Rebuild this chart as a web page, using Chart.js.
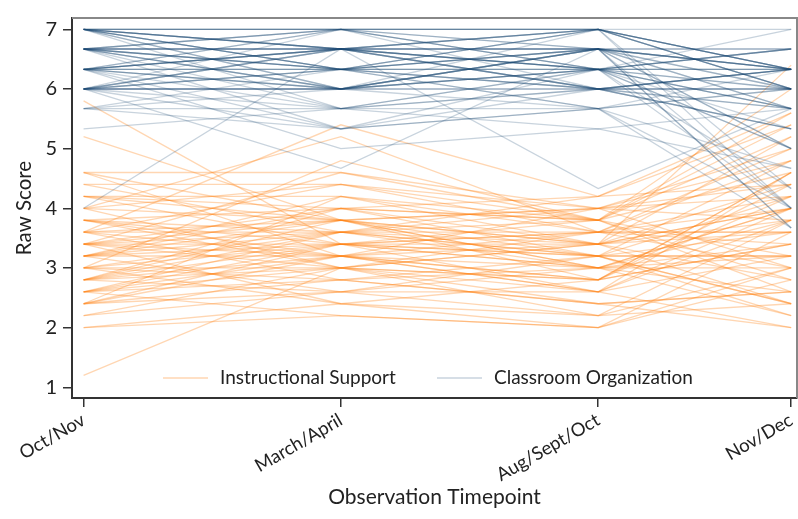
<!DOCTYPE html>
<html>
<head>
<meta charset="utf-8">
<script src="https://cdn.jsdelivr.net/npm/chart.js@4/dist/chart.umd.min.js"></script>
<style>
  html, body { margin: 0; padding: 0; background: #fff; }
  #wrap { width: 798px; height: 519px; }
</style>
</head>
<body>
<div id="wrap"><canvas id="chart" width="798" height="519"></canvas></div>
<script>
// Observation timepoints (months since first visit) and their labels
const timepoints = [0, 4, 8, 11];
const timepointLabels = ["Oct/Nov", "March/April", "Aug/Sept/Oct", "Nov/Dec"];
const yTicks = [1, 2, 3, 4, 5, 6, 7];

// One row per classroom: raw score at each timepoint
const instructionalSupport = [
  [1.2, 3.0, 2.6, 3.2], [5.8, 3.4, 3.0, 2.6], [5.2, 3.8, 3.4, 4.0], [4.6, 4.6, 3.8, 5.2],
  [4.6, 3.2, 2.8, 4.4], [4.4, 4.4, 4.0, 4.8], [4.4, 3.6, 3.2, 2.4], [4.2, 4.0, 4.2, 5.4],
  [4.2, 3.4, 3.6, 3.0], [4.2, 4.2, 3.4, 6.4], [4.0, 3.8, 4.0, 4.2], [4.0, 5.2, 3.6, 3.4],
  [4.0, 3.0, 2.8, 4.6], [3.8, 4.0, 3.8, 2.8], [3.8, 3.6, 4.2, 5.6], [3.8, 3.4, 3.0, 3.8],
  [3.6, 3.8, 3.4, 4.4], [3.6, 4.4, 3.8, 3.2], [3.6, 2.8, 3.2, 2.2], [3.6, 3.2, 2.6, 4.0],
  [3.4, 3.6, 3.6, 3.6], [3.4, 4.0, 3.2, 4.8], [3.4, 3.0, 2.4, 2.0], [3.4, 3.8, 4.0, 3.0],
  [3.4, 3.4, 3.4, 5.2], [3.2, 3.6, 3.0, 3.4], [3.2, 4.2, 3.8, 2.6], [3.2, 2.6, 2.2, 3.8],
  [3.2, 3.2, 3.6, 4.2], [3.2, 3.8, 2.8, 4.6], [3.0, 3.4, 3.2, 2.4], [3.0, 2.4, 2.0, 3.6],
  [3.0, 3.6, 3.8, 6.0], [2.8, 3.0, 3.4, 4.0], [2.8, 3.8, 3.0, 3.2], [2.8, 2.6, 2.6, 2.0],
  [2.8, 3.2, 4.0, 4.4], [2.8, 4.0, 3.4, 2.8], [2.6, 3.0, 2.8, 3.4], [2.6, 3.4, 3.6, 5.0],
  [2.6, 2.8, 2.4, 2.6], [2.6, 3.6, 3.2, 4.2], [2.6, 2.2, 2.0, 3.0], [2.4, 3.2, 3.4, 3.8],
  [2.4, 2.8, 3.0, 2.2], [2.4, 3.4, 2.6, 4.6], [2.4, 4.2, 3.6, 3.6], [2.2, 2.6, 3.0, 4.0],
  [2.2, 3.0, 2.2, 2.4], [2.0, 2.4, 2.8, 3.4], [2.0, 2.2, 2.0, 2.8], [3.6, 5.4, 4.2, 4.4],
  [3.0, 4.8, 3.8, 5.4], [3.4, 4.6, 4.0, 3.8], [4.0, 4.4, 3.6, 4.0], [3.8, 3.2, 3.0, 3.0],
  [3.2, 3.4, 3.2, 3.2], [3.0, 3.0, 3.6, 4.8], [2.8, 3.6, 3.4, 3.6], [3.4, 3.2, 2.8, 4.2],
  [3.6, 3.6, 4.0, 5.0], [2.6, 3.2, 2.6, 3.8], [4.2, 3.8, 3.2, 3.6], [3.0, 2.8, 2.4, 2.6],
  [3.2, 4.0, 3.8, 4.6], [2.4, 2.6, 3.2, 3.2], [3.8, 3.0, 3.4, 2.4], [2.8, 3.4, 3.8, 5.6],
  [3.4, 2.4, 2.2, 3.0], [4.6, 3.8, 3.0, 4.0]
];

const classroomOrganization = [
  [4.0, 6.67, 6.33, 5.0], [5.33, 5.67, 6.0, 6.33], [5.67, 5.33, 5.67, 4.0], [5.67, 6.0, 6.33, 6.67],
  [5.67, 5.67, 5.33, 5.67], [5.67, 6.33, 6.0, 5.33], [6.0, 6.0, 6.67, 6.33], [6.0, 6.67, 6.33, 6.0],
  [6.0, 5.33, 5.67, 3.67], [6.0, 6.33, 7.0, 6.33], [6.0, 7.0, 6.0, 5.67], [6.0, 5.67, 6.33, 4.33],
  [6.0, 6.0, 6.0, 6.33], [6.0, 6.33, 5.67, 6.0], [6.0, 4.67, 6.67, 5.67], [6.0, 6.67, 7.0, 4.0],
  [6.0, 6.0, 6.33, 6.67], [6.33, 6.33, 6.67, 6.33], [6.33, 6.67, 6.0, 5.33], [6.33, 7.0, 7.0, 6.0],
  [6.33, 6.0, 6.33, 6.33], [6.33, 5.0, 5.33, 4.67], [6.33, 6.33, 6.0, 6.0], [6.33, 6.67, 6.67, 5.67],
  [6.33, 6.0, 7.0, 6.33], [6.33, 7.0, 6.33, 4.0], [6.33, 6.33, 5.67, 6.0], [6.33, 5.67, 6.0, 6.33],
  [6.33, 6.67, 6.33, 7.0], [6.33, 6.0, 6.67, 5.0], [6.67, 6.67, 7.0, 6.33], [6.67, 7.0, 6.67, 6.0],
  [6.67, 6.33, 6.33, 6.33], [6.67, 6.0, 6.0, 5.67], [6.67, 6.67, 6.33, 6.67], [6.67, 7.0, 7.0, 4.33],
  [6.67, 6.33, 6.67, 6.0], [6.67, 5.67, 5.67, 6.33], [6.67, 6.67, 6.0, 5.33], [6.67, 6.33, 7.0, 6.0],
  [6.67, 7.0, 6.33, 6.33], [6.67, 6.0, 6.67, 3.67], [6.67, 6.67, 6.67, 6.67], [6.67, 5.33, 6.33, 5.67],
  [7.0, 7.0, 7.0, 7.0], [7.0, 6.67, 6.67, 6.33], [7.0, 6.33, 6.0, 6.0], [7.0, 7.0, 6.33, 5.67],
  [7.0, 6.67, 7.0, 6.33], [7.0, 6.0, 6.67, 5.0], [7.0, 6.33, 6.33, 6.67], [7.0, 7.0, 6.67, 4.0],
  [7.0, 6.67, 6.0, 6.33], [7.0, 6.33, 7.0, 6.0], [7.0, 5.67, 6.33, 5.67], [7.0, 7.0, 7.0, 6.33],
  [7.0, 6.67, 6.33, 5.33], [7.0, 6.0, 5.67, 4.67], [6.0, 6.33, 6.67, 6.33], [6.33, 6.67, 6.0, 6.33],
  [6.67, 6.33, 6.33, 6.0], [7.0, 6.67, 6.67, 6.67], [6.0, 6.67, 4.33, 5.67], [6.33, 5.33, 6.0, 6.0],
  [6.67, 6.0, 6.33, 5.0], [7.0, 6.33, 6.67, 3.67], [6.0, 6.0, 6.67, 6.33], [6.33, 6.67, 7.0, 6.0]
];

const seriesNames = ["Instructional Support", "Classroom Organization"];
const seriesColors = ["rgba(255,127,14,0.32)", "rgba(26,71,111,0.24)"];

const FONT = "Lato, 'DejaVu Sans', sans-serif";
const TEXT = "#222";

function toDatasets(rows, si) {
  return rows.map(row => ({
    label: seriesNames[si],
    data: row.map((v, k) => ({ x: timepoints[k], y: v })),
    borderColor: seriesColors[si],
    borderWidth: 1.3,
    pointRadius: 0,
    fill: false,
    tension: 0,
    order: si === 0 ? 1 : 0
  }));
}

// Outline for top/right and the in-plot legend
const framePlugin = {
  id: "frameAndLegend",
  afterDraw(chart) {
    const { ctx, chartArea: a } = chart;
    ctx.save();
    ctx.strokeStyle = "#888";
    ctx.lineWidth = 2;
    ctx.beginPath();
    ctx.moveTo(a.left, a.top);
    ctx.lineTo(a.right, a.top);
    ctx.lineTo(a.right, a.bottom);
    ctx.stroke();

    // legend entries inside the plot, along the bottom
    const y = a.bottom - 20;
    const items = [
      { x0: 163, color: seriesColors[0], text: seriesNames[0] },
      { x0: 437, color: seriesColors[1], text: seriesNames[1] }
    ];
    ctx.font = "19px " + FONT;
    ctx.textBaseline = "middle";
    ctx.textAlign = "left";
    items.forEach(it => {
      ctx.strokeStyle = it.color;
      ctx.lineWidth = 1.5;
      ctx.beginPath();
      ctx.moveTo(it.x0, y);
      ctx.lineTo(it.x0 + 45, y);
      ctx.stroke();
      ctx.fillStyle = TEXT;
      ctx.fillText(it.text, it.x0 + 57, y);
    });
    ctx.restore();
  }
};

new Chart(document.getElementById("chart"), {
  type: "line",
  data: {
    datasets: [...toDatasets(instructionalSupport, 0), ...toDatasets(classroomOrganization, 1)]
  },
  options: {
    responsive: false,
    animation: false,
    devicePixelRatio: 1,
    layout: { padding: { top: 6, right: 1, left: 0, bottom: 0 } },
    plugins: { legend: { display: false }, tooltip: { enabled: false } },
    scales: {
      x: {
        type: "linear",
        min: -0.18,
        max: 11.09,
        afterBuildTicks: s => { s.ticks = timepoints.map(v => ({ value: v })); },
        afterFit: s => { s.height = 121; s.paddingRight = 0; s.paddingLeft = 0; },
        ticks: {
          minRotation: 30, maxRotation: 30, padding: 2,
          color: TEXT, font: { family: FONT, size: 18.5 },
          callback: v => timepointLabels[timepoints.indexOf(v)]
        },
        grid: { drawOnChartArea: false, drawTicks: true, tickLength: 9, color: "#333", lineWidth: 1.5 },
        border: { display: true, color: "#333", width: 2 },
        title: {
          display: true, text: "Observation Timepoint", color: TEXT,
          font: { family: FONT, size: 21 }, padding: { top: 0, bottom: 9 }
        }
      },
      y: {
        type: "linear",
        min: 0.82,
        max: 7.19,
        afterBuildTicks: s => { s.ticks = yTicks.map(v => ({ value: v })); },
        afterFit: s => { s.width = 72; },
        ticks: { color: TEXT, font: { family: FONT, size: 20 }, padding: 6 },
        grid: { drawOnChartArea: false, drawTicks: true, tickLength: 9, color: "#333", lineWidth: 1.5 },
        border: { display: true, color: "#333", width: 2 },
        title: {
          display: true, text: "Raw Score", color: TEXT,
          font: { family: FONT, size: 20.5 }, padding: { top: 12, bottom: 0 }
        }
      }
    }
  },
  plugins: [framePlugin]
});
</script>
</body>
</html>
